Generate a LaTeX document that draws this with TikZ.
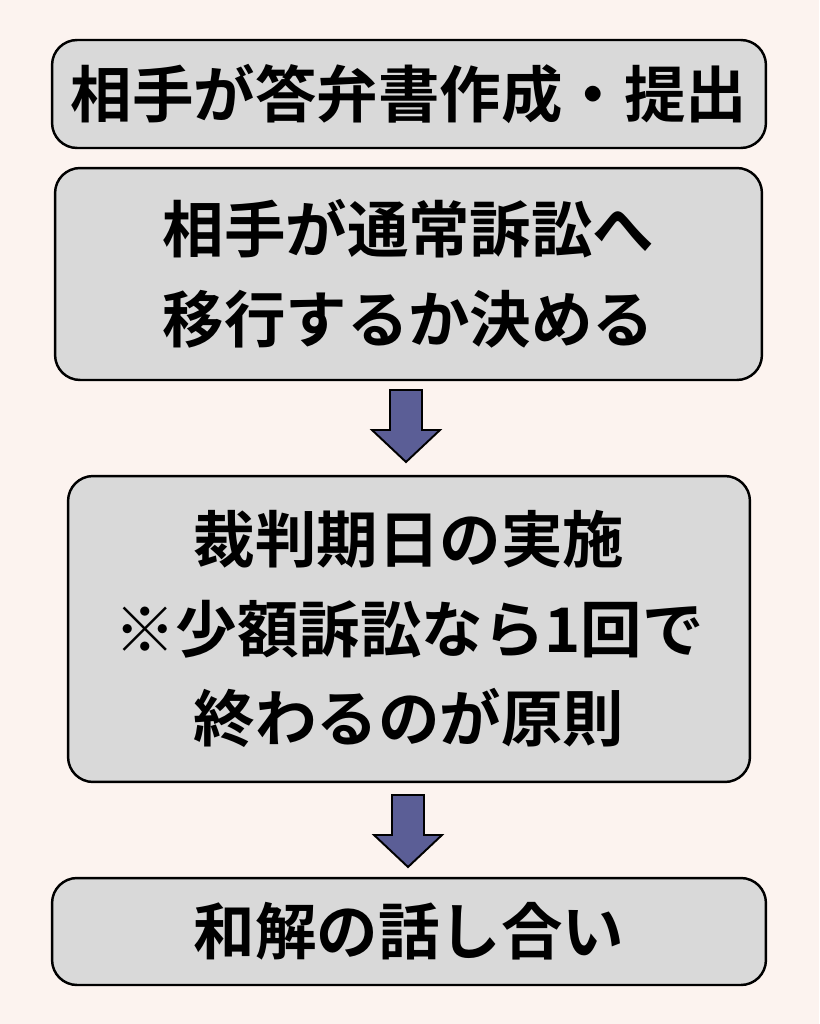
\documentclass[tikz,border=0pt]{standalone}
\usepackage{fontspec}
\setmainfont{Noto Sans CJK JP}[BoldFont={* Bold}]
\definecolor{bgpink}{HTML}{FCF3EF}
\definecolor{boxgray}{HTML}{D9D9D9}
\definecolor{arrowblue}{HTML}{5B5E96}
\newcommand{\downarrowat}[2]{% #1 = Name, #2 = Spitze oben (x,y)
    \coordinate (#1) at #2;
    \filldraw[down] (#1) ++(-16,0) -- ++(32,0) -- ++(0,40) -- ++(18,0)
        -- ++(-34,32) -- ++(-34,-32) -- ++(18,0) -- cycle;}
\begin{document}
\begin{tikzpicture}[x=0.02cm, y=-0.02cm]
    \tikzstyle{stage}=[draw, line width=1.4pt, fill=boxgray, rounded corners=0.5cm,
        font=\fontsize{35}{51}\selectfont\bfseries, align=center, inner sep=0pt]
    \tikzstyle{down}=[draw=black, line width=1.1pt, fill=arrowblue, line join=miter]

        % Hintergrund
        \fill[bgpink] (0,0) rectangle (819,1024);
        \useasboundingbox (0,0) rectangle (819,1024);

        % Kästen
        \node[stage, minimum width=14.28cm, minimum height=2.16cm] (answer) at (409,94) {相手が答弁書作成・提出};
        \node[stage, minimum width=14.14cm, minimum height=4.24cm] (transfer) at (408.5,274) {相手が通常訴訟へ\\移行するか決める};
        \node[stage, minimum width=13.64cm, minimum height=6.12cm] (hearing) at (409,629) {裁判期日の実施\\※少額訴訟なら1回で\\終わるのが原則};
        \node[stage, minimum width=14.28cm, minimum height=2.14cm] (settle) at (409,931.5) {和解の話し合い};

        % Pfeile
        \downarrowat{arrowA}{(406,390)}
        \downarrowat{arrowB}{(408,795)}
\end{tikzpicture}
\end{document}
